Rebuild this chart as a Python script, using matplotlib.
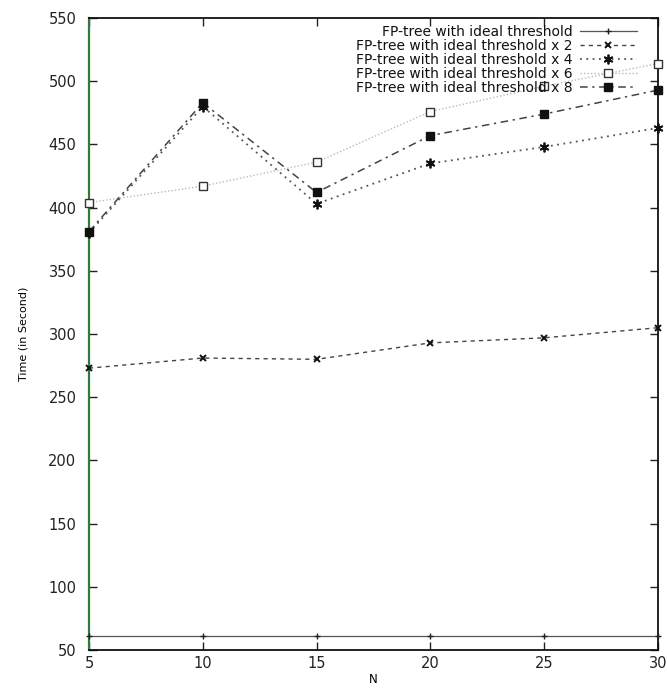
import matplotlib
matplotlib.use("Agg")
import matplotlib.pyplot as plt

# Window size N and running time (seconds) for each threshold setting
n_values = [5, 10, 15, 20, 25, 30]
t_ideal = [61, 61, 61, 61, 61, 61]
t_ideal_x2 = [273, 281, 280, 293, 297, 305]
t_ideal_x4 = [380, 480, 403, 435, 448, 463]
t_ideal_x6 = [404, 417, 436, 476, 496, 514]
t_ideal_x8 = [381, 483, 412, 457, 474, 493]

series_labels = [
    "FP-tree with ideal threshold",
    "FP-tree with ideal threshold x 2",
    "FP-tree with ideal threshold x 4",
    "FP-tree with ideal threshold x 6",
    "FP-tree with ideal threshold x 8",
]
y_ticks = [50, 100, 150, 200, 250, 300, 350, 400, 450, 500, 550]
x_ticks = [5, 10, 15, 20, 25, 30]

plt.rcParams["font.family"] = ["DejaVu Sans"]

fig = plt.figure(figsize=(6.67, 6.88), dpi=100)
ax = fig.add_axes([0.1334, 0.0552, 0.853, 0.9186])

styles = [
    dict(color="#555555", linestyle="-", linewidth=0.9, marker="+", markersize=5,
         markeredgewidth=1.0, markeredgecolor="#222222"),
    dict(color="#444444", linestyle=(0, (3, 3)), linewidth=1.0, marker="x", markersize=5,
         markeredgewidth=1.4, markeredgecolor="#111111"),
    dict(color="#555555", linestyle=(0, (1, 2.5)), linewidth=1.3, marker=(6, 2, 0), markersize=7,
         markeredgewidth=1.3, markeredgecolor="#111111"),
    dict(color="#bbbbbb", linestyle=(0, (1, 1.5)), linewidth=1.0, marker="s", markersize=6,
         markerfacecolor="white", markeredgewidth=1.0, markeredgecolor="#333333"),
    dict(color="#444444", linestyle=(0, (5, 3, 1.5, 3)), linewidth=1.1, marker="s", markersize=6,
         markerfacecolor="#111111", markeredgecolor="#111111"),
]
series = [t_ideal, t_ideal_x2, t_ideal_x4, t_ideal_x6, t_ideal_x8]

handles = []
for ys, lab, st in zip(series, series_labels, styles):
    (h,) = ax.plot(n_values, ys, label=lab, clip_on=False, zorder=3, **st)
    handles.append(h)

ax.set_xlim(5, 30)
ax.set_ylim(50, 550)
ax.set_xticks(x_ticks)
ax.set_yticks(y_ticks)
ax.tick_params(axis="both", direction="in", length=6, width=1.0, top=True, right=True,
               labelsize=10.5, colors="#222222")
ax.tick_params(axis="y", pad=9)
ax.tick_params(axis="x", pad=4)

for side, sp in ax.spines.items():
    sp.set_linewidth(1.3)
    sp.set_color("#111111")
ax.spines["left"].set_color("#2f7a3c")
ax.spines["left"].set_linewidth(1.6)

ax.set_xlabel("N", fontsize=8.5, labelpad=2)
ax.set_ylabel("Time (in Second)", fontsize=8, labelpad=14)

leg = ax.legend(handles=handles, loc="upper right", bbox_to_anchor=(0.963, 0.989),
                frameon=False, markerfirst=False, fontsize=10, handlelength=4.1,
                handletextpad=0.5, labelspacing=0.0, borderaxespad=0.0,
                borderpad=0.0)
for t in leg.get_texts():
    t.set_ha("right")
    t.set_color("#111111")

fig.savefig("out.png", dpi=100)
